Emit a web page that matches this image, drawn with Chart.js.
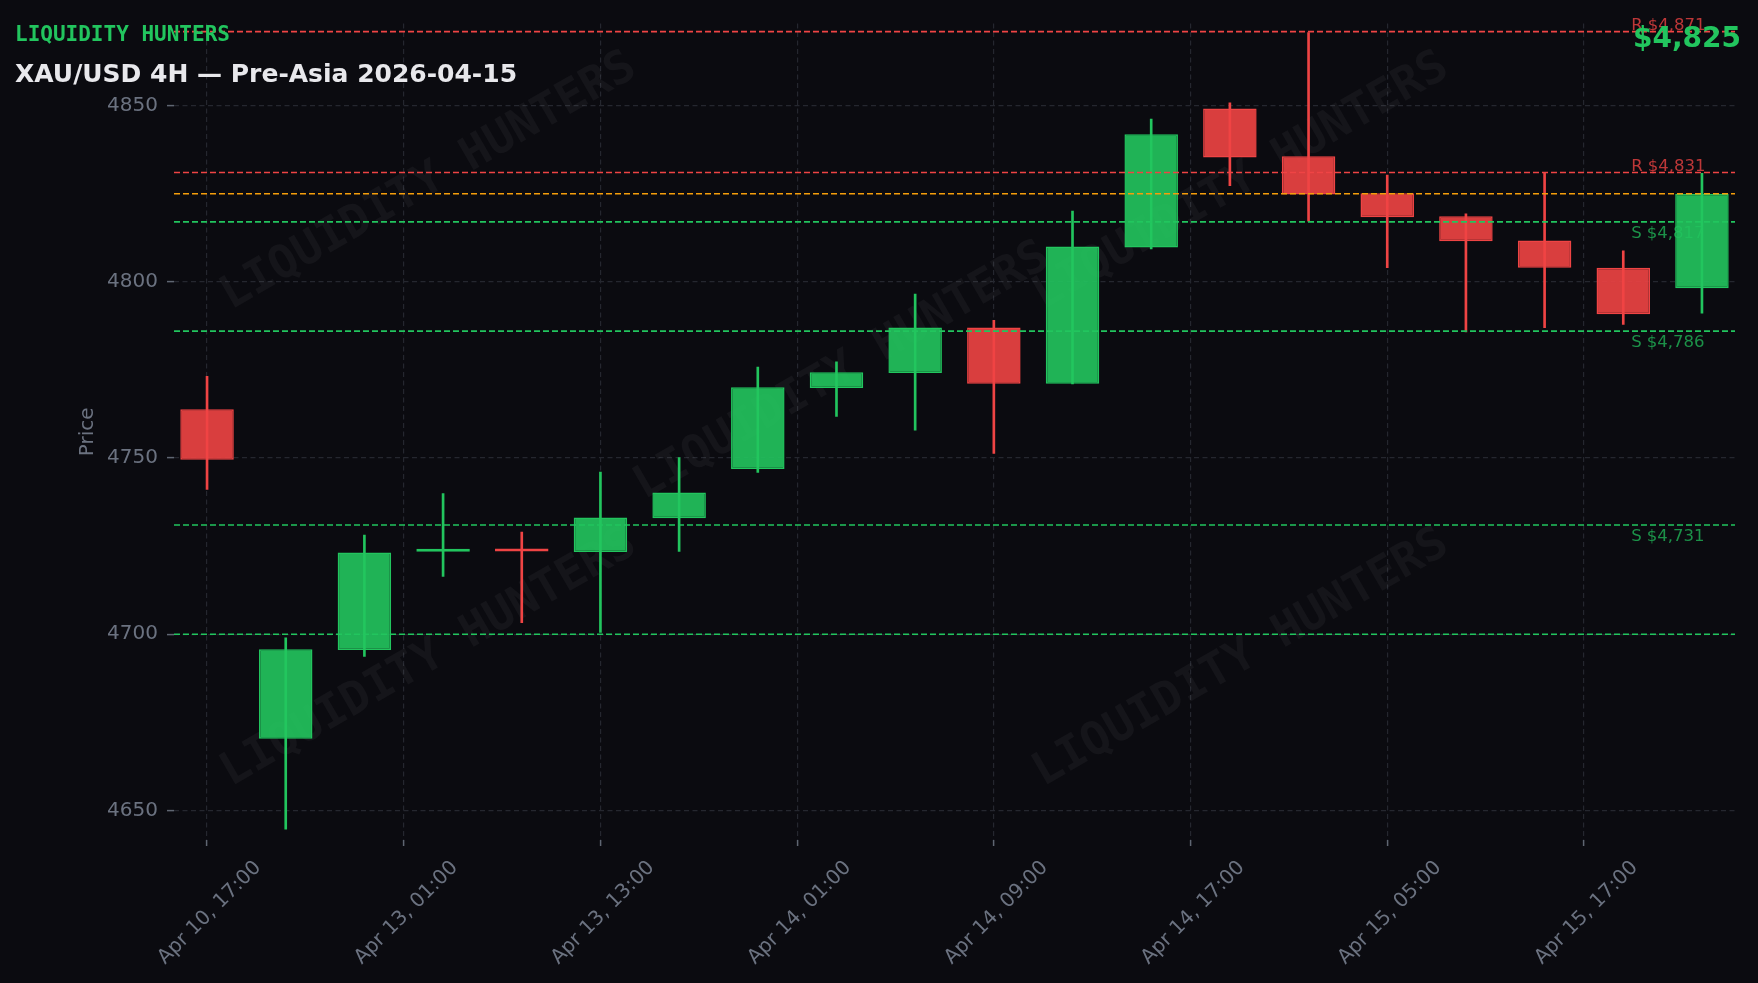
<!DOCTYPE html>
<html lang="en">
<head>
    <meta charset="UTF-8">
    <title>XAU/USD 4H — Pre-Asia</title>
    <style>
        html, body {
            margin: 0;
            padding: 0;
            background-color: #0b0b10;
        }
        #wrap {
            position: relative;
            width: 1758px;
            height: 983px;
        }
    </style>
</head>
<body>
    <div id="wrap">
        <canvas id="myChart"></canvas>
    </div>

    <script src="https://cdn.jsdelivr.net/npm/chart.js@4"></script>
    <script>
// 4H candles, Apr 10 17:00 -> Apr 15
const opens  = [4763.8, 4670.3, 4695.5, 4723.4, 4723.7, 4723.3, 4732.9, 4746.9, 4769.9, 4774.1,
                4787.0, 4771.1, 4809.7, 4849.2, 4835.6, 4825.1, 4818.6, 4811.7, 4804.0, 4798.2];
const highs  = [4773.2, 4699.0, 4728.1, 4739.9, 4729.0, 4746.0, 4750.1, 4775.8, 4777.3, 4796.5,
                4789.1, 4820.1, 4846.2, 4850.8, 4870.7, 4830.3, 4819.3, 4830.8, 4808.8, 4830.8];
const lows   = [4741.1, 4644.7, 4693.7, 4716.4, 4703.3, 4700.5, 4723.5, 4745.9, 4761.8, 4757.9,
                4751.3, 4771.0, 4809.3, 4827.3, 4817.2, 4804.0, 4785.8, 4787.0, 4787.9, 4791.1];
const closes = [4749.5, 4695.7, 4723.2, 4723.6, 4723.5, 4733.1, 4740.2, 4770.1, 4774.3, 4787.0,
                4771.1, 4810.0, 4841.9, 4835.3, 4824.8, 4818.3, 4811.5, 4804.0, 4790.8, 4825.0];

// x axis ticks (candle index -> date label)
const tickPositions = [0, 2.5, 5, 7.5, 10, 12.5, 15, 17.5];
const tickLabels = ['Apr 10, 17:00', 'Apr 13, 01:00', 'Apr 13, 13:00', 'Apr 14, 01:00',
                    'Apr 14, 09:00', 'Apr 14, 17:00', 'Apr 15, 05:00', 'Apr 15, 17:00'];
const yTicks = [4650, 4700, 4750, 4800, 4850];

// key levels
const resistance = [4871, 4831];
const support = [4817, 4786, 4731];
const roundLevels = [4700];
const lastPrice = 4825;

const xMin = -0.42, xMax = 19.42;
const yMin = 4641.6, yMax = 4873.3;
const labelAt = 18.1;

const UP = '#22c55e';
const DOWN = '#ef4444';
const AMBER = '#f59e0b';
const GREY = '#6b7280';
const GRID = '#25272f';

const isUp = opens.map((o, i) => closes[i] >= o);

function fmt(v) {
    return '$' + v.toLocaleString('en-US');
}

function levelLine(value, color) {
    return {
        type: 'line',
        data: [{ x: xMin, y: value }, { x: xMax, y: value }],
        borderColor: color,
        borderWidth: 1.6,
        borderDash: [6, 3],
        pointRadius: 0,
        fill: false,
        order: 0
    };
}

const lineSets = [
    ...resistance.map(v => levelLine(v, DOWN)),
    levelLine(lastPrice, AMBER),
    ...support.map(v => levelLine(v, UP)),
    ...roundLevels.map(v => levelLine(v, UP))
];

const bodies = {
    type: 'bar',
    data: opens.map((o, i) => ({ x: i, y: [o, closes[i]] })),
    backgroundColor: isUp.map(u => u ? 'rgba(34,197,94,0.9)' : 'rgba(239,68,68,0.9)'),
    borderColor: isUp.map(u => u ? UP : DOWN),
    borderWidth: 1.5,
    borderSkipped: false,
    barPercentage: 0.68,
    categoryPercentage: 1,
    minBarLength: 3,
    grouped: false,
    order: 1
};

const wicks = {
    type: 'bar',
    data: lows.map((l, i) => ({ x: i, y: [l, highs[i]] })),
    backgroundColor: isUp.map(u => u ? UP : DOWN),
    borderWidth: 0,
    barThickness: 2,
    grouped: false,
    order: 2
};

// watermark spots as canvas fractions
const wmSpots = [[0.244, 0.185], [0.479, 0.378], [0.706, 0.185], [0.244, 0.67], [0.706, 0.67]];

const overlay = {
    id: 'overlay',
    beforeDatasetsDraw(chart) {
        const ctx = chart.ctx;
        ctx.save();
        ctx.font = 'bold 46px "DejaVu Sans Mono"';
        ctx.fillStyle = 'rgba(255,255,255,0.045)';
        ctx.textAlign = 'center';
        ctx.textBaseline = 'middle';
        wmSpots.forEach(([fx, fy]) => {
            ctx.save();
            ctx.translate(chart.width * fx, chart.height * fy);
            ctx.rotate(-30 * Math.PI / 180);
            ctx.fillText('LIQUIDITY HUNTERS', 0, 0);
            ctx.restore();
        });
        ctx.restore();
    },
    afterDraw(chart) {
        const ctx = chart.ctx;
        const xs = chart.scales.x, ys = chart.scales.y;
        const lx = xs.getPixelForValue(labelAt);
        ctx.save();
        ctx.font = '16.5px "DejaVu Sans"';
        ctx.textAlign = 'left';
        ctx.textBaseline = 'alphabetic';
        ctx.fillStyle = 'rgba(239,68,68,0.78)';
        resistance.forEach(v => ctx.fillText('R ' + fmt(v), lx, ys.getPixelForValue(v) - 2));
        ctx.fillStyle = 'rgba(34,197,94,0.72)';
        support.forEach(v => ctx.fillText('S ' + fmt(v), lx, ys.getPixelForValue(v) + 16));

        // header
        ctx.fillStyle = UP;
        ctx.font = 'bold 21px "DejaVu Sans Mono"';
        ctx.fillText('LIQUIDITY HUNTERS', 15, 41);
        ctx.fillStyle = '#e8e8ec';
        ctx.font = 'bold 25px "DejaVu Sans"';
        ctx.fillText('XAU/USD 4H — Pre-Asia 2026-04-15', 15, 82);
        ctx.fillStyle = UP;
        ctx.font = 'bold 28px "DejaVu Sans"';
        ctx.textAlign = 'right';
        ctx.fillText(fmt(lastPrice), 1741, 47);
        ctx.restore();
    }
};

const ctx = document.getElementById('myChart').getContext('2d');
const myChart = new Chart(ctx, {
    type: 'bar',
    data: {
        datasets: [...lineSets, bodies, wicks]
    },
    options: {
        responsive: true,
        maintainAspectRatio: false,
        animation: false,
        layout: { padding: { left: 0, right: 23, top: 23.5, bottom: 0 } },
        plugins: {
            legend: { display: false },
            tooltip: { enabled: false }
        },
        scales: {
            x: {
                type: 'linear',
                min: xMin,
                max: xMax,
                offset: false,
                afterFit: s => { s.height = 143; },
                afterBuildTicks: s => { s.ticks = tickPositions.map(v => ({ value: v })); },
                ticks: {
                    autoSkip: false,
                    minRotation: 45,
                    maxRotation: 45,
                    labelOffset: 51,
                    padding: 10,
                    color: GREY,
                    font: { family: 'DejaVu Sans', size: 20 },
                    callback: v => tickLabels[tickPositions.indexOf(v)]
                },
                grid: {
                    offset: false,
                    color: GRID,
                    lineWidth: 1.2,
                    tickLength: 6,
                    tickColor: '#5f6672',
                    tickWidth: 1.5,
                    tickBorderDash: []
                },
                border: { display: false, dash: [5, 3.5] }
            },
            y: {
                min: yMin,
                max: yMax,
                afterFit: s => { s.width = 174; },
                afterBuildTicks: s => { s.ticks = yTicks.map(v => ({ value: v })); },
                ticks: {
                    padding: 9,
                    color: GREY,
                    font: { family: 'DejaVu Sans', size: 20 },
                    callback: v => String(v)
                },
                title: {
                    display: true,
                    text: 'Price',
                    color: GREY,
                    font: { family: 'DejaVu Sans', size: 20 },
                    padding: { top: 76, bottom: 0 }
                },
                grid: {
                    color: GRID,
                    lineWidth: 1.2,
                    tickLength: 7,
                    tickColor: '#5f6672',
                    tickWidth: 1.5,
                    tickBorderDash: []
                },
                border: { display: false, dash: [5, 3.5] }
            }
        }
    },
    plugins: [overlay]
});
    </script>
</body>
</html>
